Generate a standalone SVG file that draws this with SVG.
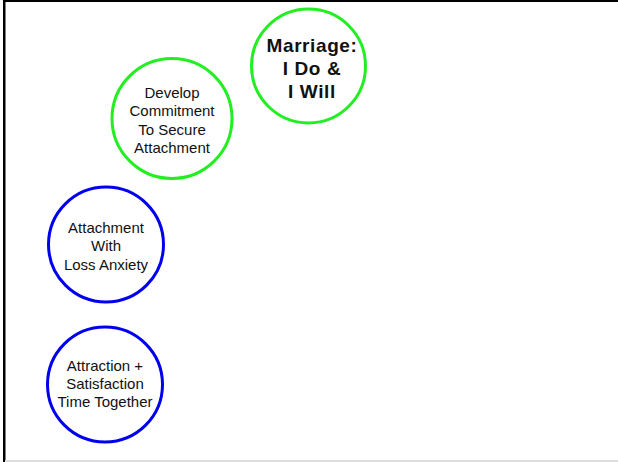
<svg xmlns="http://www.w3.org/2000/svg" width="618" height="462" viewBox="0 0 618 462">
<style>
.c{fill:#fff;stroke-width:3}
.g{stroke:#22ee22}
.b{stroke:#0000ee}
.t{font-family:"Liberation Sans",Arial,sans-serif;font-size:15px;fill:#111;text-anchor:middle}
.tb{font-family:"Liberation Sans",Arial,sans-serif;font-size:19px;font-weight:bold;fill:#111;text-anchor:middle;letter-spacing:0.6px}
</style>
<rect x="0" y="0" width="618" height="462" fill="#fff"/>
<rect x="3" y="0" width="615" height="2" fill="#000"/>
<rect x="3" y="0" width="2.5" height="462" fill="#000"/>
<rect x="5" y="460" width="613" height="2" fill="#ddd"/>
<g id="connectors"></g>
<g id="node-marriage">
<circle class="c g" cx="308.5" cy="66" r="57"/>
<text class="tb" x="312" y="52">Marriage:</text>
<text class="tb" x="312" y="75">I Do &amp;</text>
<text class="tb" x="312" y="98">I Will</text>
</g>
<g id="node-develop">
<circle class="c g" cx="172" cy="118.5" r="60"/>
<text class="t" x="172" y="97.5">Develop</text>
<text class="t" x="172" y="116">Commitment</text>
<text class="t" x="172" y="134.5">To Secure</text>
<text class="t" x="172" y="153">Attachment</text>
</g>
<g id="node-attachment">
<circle class="c b" cx="106" cy="244.5" r="57.5"/>
<text class="t" x="106" y="232.5">Attachment</text>
<text class="t" x="106" y="251">With</text>
<text class="t" x="106" y="269.5">Loss Anxiety</text>
</g>
<g id="node-attraction">
<circle class="c b" cx="105" cy="384.5" r="57.5"/>
<text class="t" x="105" y="370.5">Attraction +</text>
<text class="t" x="105" y="389">Satisfaction</text>
<text class="t" x="105" y="407">Time Together</text>
</g>
</svg>
